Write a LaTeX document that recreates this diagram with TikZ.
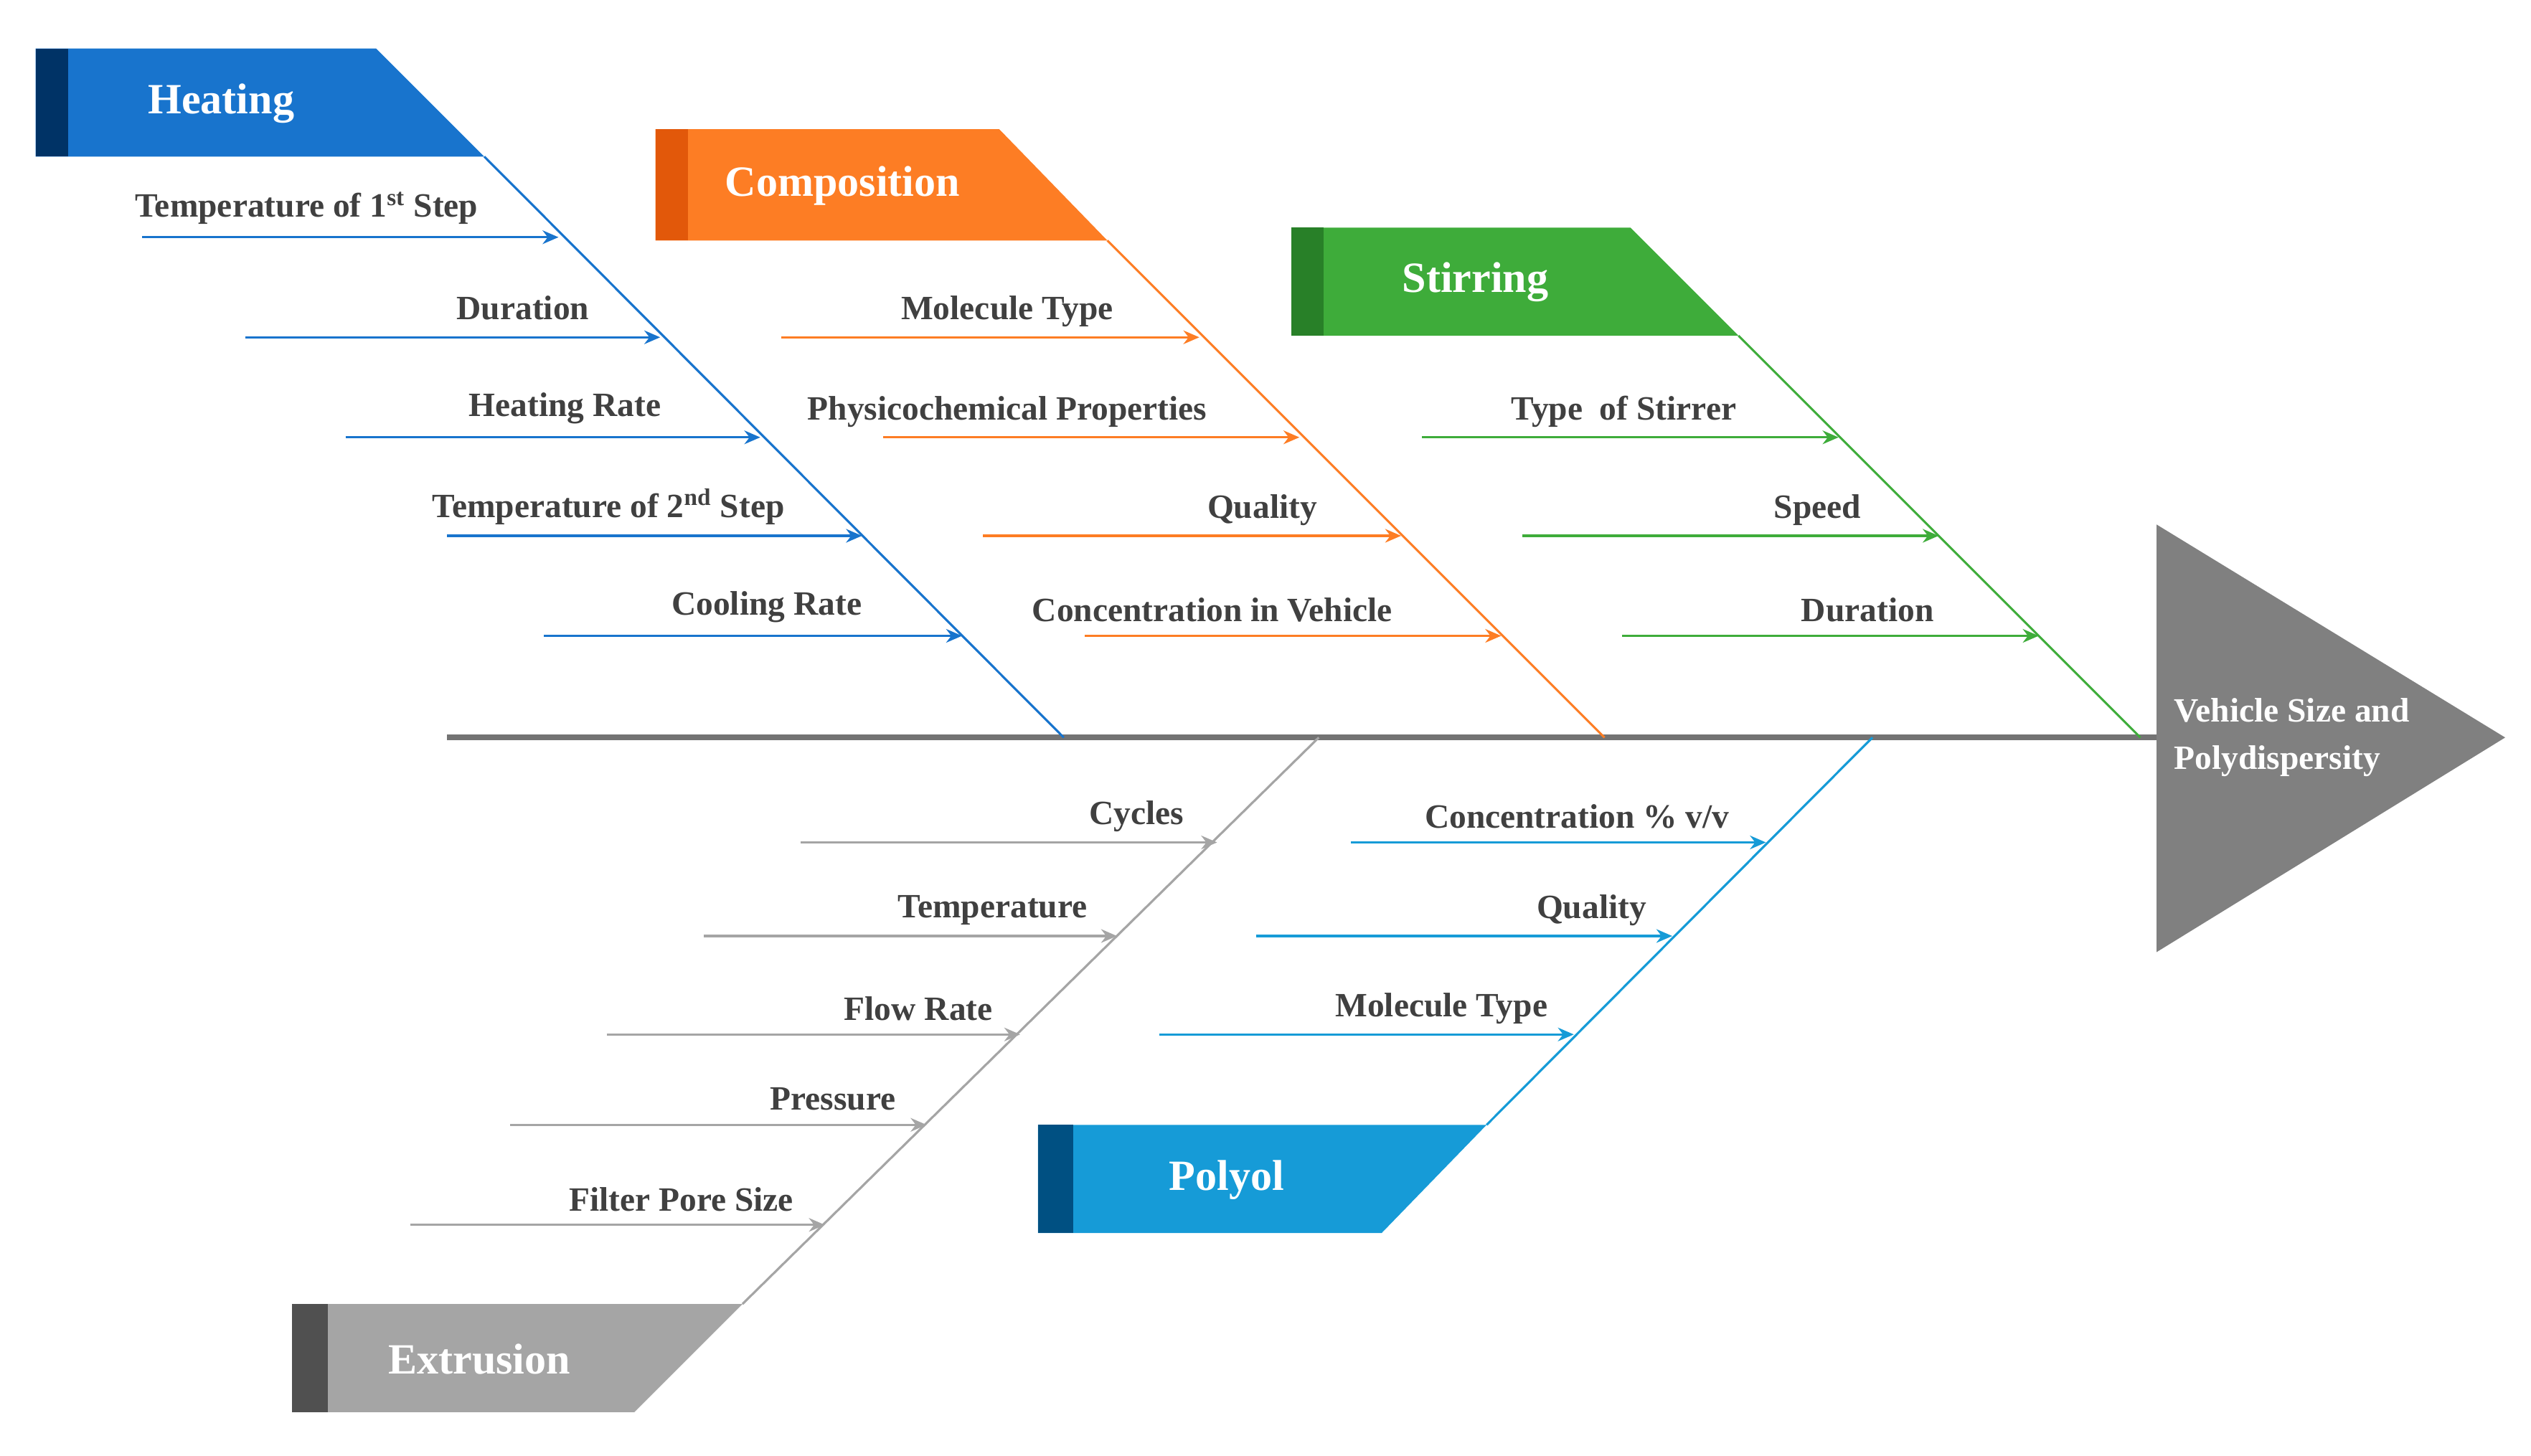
\documentclass[tikz,border=0pt]{standalone}
\usepackage{fontspec}
\setmainfont{Liberation Serif}
\usetikzlibrary{arrows.meta, positioning}
\definecolor{heatblue}{RGB}{24,116,205}
\definecolor{heatdark}{RGB}{0,51,102}
\definecolor{compor}{RGB}{253,125,36}
\definecolor{compdark}{RGB}{226,88,10}
\definecolor{stirgreen}{RGB}{62,172,58}
\definecolor{stirdark}{RGB}{40,128,40}
\definecolor{extgray}{RGB}{165,165,165}
\definecolor{extdark}{RGB}{80,80,80}
\definecolor{polblue}{RGB}{22,155,215}
\definecolor{poldark}{RGB}{0,80,130}
\definecolor{labgray}{RGB}{64,64,64}
\tikzstyle{title} = [text=white, font=\fontsize{19}{22}\selectfont\bfseries]
\tikzstyle{causelabel} = [text=labgray, font=\fontsize{15}{18}\selectfont\bfseries, inner sep=1pt]
\tikzstyle{cause} = [line width=1pt, -{Stealth[length=7pt,width=6pt]}]
\tikzstyle{bone} = [line width=1pt]

\begin{document}
\begin{tikzpicture}[x=0.025cm, y=-0.025cm]
    \useasboundingbox (0,0) rectangle (1568,902);

    % spine and head
    \coordinate (tail) at (277,457);
    \coordinate (neck) at (1336,457);
    \draw [line width=2.5pt, gray!90!black] (tail) -- (neck);
    \fill [gray] (1336,325) -- (1552,457) -- (1336,590) -- cycle;
    \node [text=white, font=\fontsize{15}{21}\selectfont\bfseries, align=left, anchor=west] (effect) at (1342,457) {Vehicle Size and\\Polydispersity};

    % Heating
    \fill [heatblue] (22,30) -- (233,30) -- (300,97) -- (22,97) -- cycle;
    \fill [heatdark] (22,30) rectangle (42,97);
    \node [title] (heating) at (137,64) {Heating};
    \coordinate (heattop) at (300,97);
    \coordinate (heatend) at (659,457);
    \draw [bone, heatblue] (heattop) -- (heatend);
    \foreach \y/\xa/\xb/\xl/\txt [count=\i] in {147/88/346/190/{Temperature of 1\textsuperscript{st} Step},
        209/152/409/324/Duration, 271/214/471/350/Heating Rate,
        332/277/534/377/{Temperature of 2\textsuperscript{nd} Step}, 394/337/596/475/Cooling Rate} {
        \coordinate (hs\i) at (\xa,\y);
        \coordinate (he\i) at (\xb,\y);
        \draw [cause, heatblue] (hs\i) -- (he\i);
        \node [causelabel] (hl\i) at (\xl,\y-18) {\txt};
    }

    % Composition
    \fill [compor] (406,80) -- (619,80) -- (686,149) -- (406,149) -- cycle;
    \fill [compdark] (406,80) rectangle (426,149);
    \node [title] (composition) at (522,115) {Composition};
    \coordinate (comptop) at (686,149);
    \coordinate (compend) at (994,457);
    \draw [bone, compor] (comptop) -- (compend);
    \foreach \y/\xa/\xb/\xl/\txt [count=\i] in {209/484/743/624/Molecule Type,
        271/547/805/624/Physicochemical Properties, 332/609/868/782/Quality,
        394/672/930/751/Concentration in Vehicle} {
        \coordinate (cs\i) at (\xa,\y);
        \coordinate (ce\i) at (\xb,\y);
        \draw [cause, compor] (cs\i) -- (ce\i);
        \node [causelabel] (cl\i) at (\xl,\y-16) {\txt};
    }

    % Stirring
    \fill [stirgreen] (800,141) -- (1010,141) -- (1077,208) -- (800,208) -- cycle;
    \fill [stirdark] (800,141) rectangle (820,208);
    \node [title] (stirring) at (914,175) {Stirring};
    \coordinate (stirtop) at (1077,208);
    \coordinate (stirend) at (1326,457);
    \draw [bone, stirgreen] (stirtop) -- (stirend);
    \foreach \y/\xa/\xb/\xl/\txt [count=\i] in {271/881/1139/1006/Type~~of Stirrer,
        332/943/1201/1126/Speed, 394/1005/1263/1157/Duration} {
        \coordinate (ss\i) at (\xa,\y);
        \coordinate (se\i) at (\xb,\y);
        \draw [cause, stirgreen] (ss\i) -- (se\i);
        \node [causelabel] (sl\i) at (\xl,\y-16) {\txt};
    }

    % Extrusion
    \fill [extgray] (181,808) -- (460,808) -- (393,875) -- (181,875) -- cycle;
    \fill [extdark] (181,808) rectangle (203,875);
    \node [title] (extrusion) at (297,842) {Extrusion};
    \coordinate (exttop) at (460,808);
    \coordinate (extend) at (817,457);
    \draw [bone, extgray] (exttop) -- (extend);
    \foreach \y/\xa/\xb/\xl/\txt [count=\i] in {522/496/754/704/Cycles,
        580/436/692/615/Temperature, 641/376/632/569/Flow Rate,
        697/316/574/516/Pressure, 759/254/511/422/Filter Pore Size} {
        \coordinate (es\i) at (\xa,\y);
        \coordinate (ee\i) at (\xb,\y);
        \draw [cause, extgray] (es\i) -- (ee\i);
        \node [causelabel] (el\i) at (\xl,\y-16) {\txt};
    }

    % Polyol
    \fill [polblue] (643,697) -- (921,697) -- (856,764) -- (643,764) -- cycle;
    \fill [poldark] (643,697) rectangle (665,764);
    \node [title] (polyol) at (760,731) {Polyol};
    \coordinate (poltop) at (921,697);
    \coordinate (polend) at (1160,457);
    \draw [bone, polblue] (poltop) -- (polend);
    \foreach \y/\xa/\xb/\xl/\txt [count=\i] in {522/837/1094/977/{Concentration \% v/v},
        580/778/1036/986/Quality, 641/718/975/893/Molecule Type} {
        \coordinate (ps\i) at (\xa,\y);
        \coordinate (pe\i) at (\xb,\y);
        \draw [cause, polblue] (ps\i) -- (pe\i);
        \node [causelabel] (pl\i) at (\xl,\y-16) {\txt};
    }

\end{tikzpicture}
\end{document}
